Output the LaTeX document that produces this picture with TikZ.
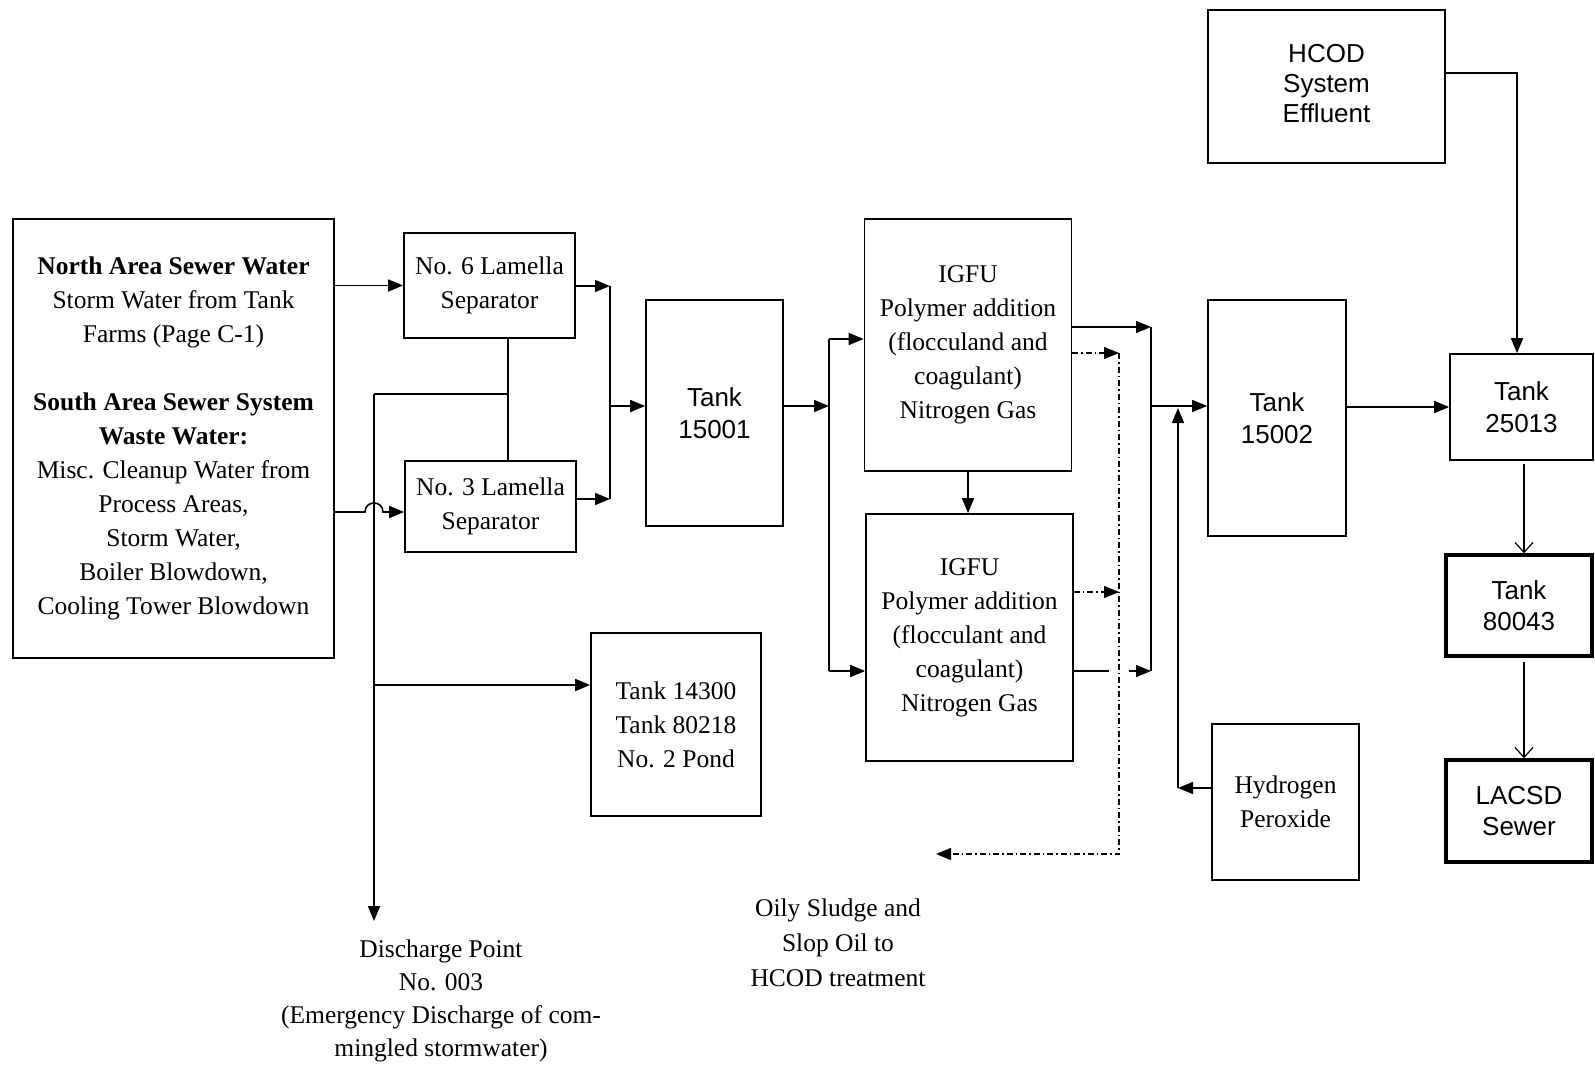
\documentclass[tikz,border=0pt]{standalone}
\usepackage{fontspec}
\setmainfont{Liberation Serif}
\setsansfont{Liberation Sans}
\usetikzlibrary{arrows.meta}
\begin{document}
\begin{tikzpicture}[x=1pt,y=-1pt,
  box/.style={draw, line width=1.7pt, inner sep=0pt, align=center, font=\fontsize{25.5}{34}\selectfont},
  sbox/.style={box, font=\sffamily\fontsize{26}{31.5}\selectfont},
  tbox/.style={sbox, line width=3.4pt},
  ln/.style={line width=1.6pt},
  tip/.style={-{Triangle[length=15pt,width=12pt]}},
  arr/.style={ln, tip},
  oarr/.style={line width=1.2pt, -{Straight Barb[length=10pt,width=18pt]}},
  dd/.style={line width=1.4pt, dash pattern=on 6pt off 3pt on 1.5pt off 3pt},
  lbl/.style={align=center, inner sep=0pt, font=\fontsize{25.5}{33}\selectfont}
]
\useasboundingbox (0,0) rectangle (1595,1067);

% boxes
\node[box, minimum width=321pt, minimum height=439pt] (src) at (173.5,438.5)
  {\textbf{North Area Sewer Water}\\Storm Water from Tank\\Farms (Page C-1)\\[34pt]
   \textbf{South Area Sewer System}\\\textbf{Waste Water:}\\Misc. Cleanup Water from\\Process Areas,\\Storm Water,\\Boiler Blowdown,\\Cooling Tower Blowdown};
\node[box, minimum width=171pt, minimum height=105pt] (lam6) at (489.5,285.5) {No. 6 Lamella\\Separator};
\node[box, minimum width=171pt, minimum height=91pt] (lam3) at (490.5,506.5) {No. 3 Lamella\\Separator};
\node[sbox, minimum width=137pt, minimum height=226pt] (t15001) at (714.5,413) {Tank\\15001};
\node[box, minimum width=207pt, minimum height=252pt] (igfu1) at (968,345)
  {IGFU\\Polymer addition\\(flocculand and\\coagulant)\\Nitrogen Gas};
\node[box, minimum width=207pt, minimum height=247pt] (igfu2) at (969.5,637.5)
  {IGFU\\Polymer addition\\(flocculant and\\coagulant)\\Nitrogen Gas};
\node[box, minimum width=170pt, minimum height=183pt] (t14300) at (676,724.5) {Tank 14300\\Tank 80218\\No. 2 Pond};
\node[sbox, minimum width=138pt, minimum height=236pt] (t15002) at (1277,418) {Tank\\15002};
\node[sbox, minimum width=237pt, minimum height=153pt, font=\sffamily\fontsize{26}{30}\selectfont] (hcod) at (1326.5,86.5)
  {\raisebox{6pt}{\begin{tabular}{@{}c@{}}HCOD\\System\\Effluent\end{tabular}}};
\node[sbox, minimum width=143pt, minimum height=106pt] (t25013) at (1521.5,407) {Tank\\25013};
\node[tbox, minimum width=146pt, minimum height=101pt] (t80043) at (1519,605.5) {Tank\\80043};
\node[tbox, minimum width=146pt, minimum height=102pt] (lacsd) at (1519,811) {LACSD\\Sewer};
\node[box, minimum width=147pt, minimum height=156pt] (h2o2) at (1285.5,802) {Hydrogen\\Peroxide};

\node[lbl] (disch) at (441,1001) {Discharge Point\\No. 003\\(Emergency Discharge of com-\\mingled stormwater)};
\node[lbl, font=\fontsize{25.5}{35}\selectfont] (oily) at (838,943) {Oily Sludge and\\Slop Oil to\\HCOD treatment};

% coordinates
\coordinate (j1) at (508,394);
\coordinate (jv) at (374,394);
\coordinate (dend) at (374,921);
\coordinate (b1) at (374,685);
\coordinate (m1) at (610,286);
\coordinate (m2) at (610,499);
\coordinate (m3) at (610,406);
\coordinate (s1) at (829,339);
\coordinate (s2) at (829,671);
\coordinate (s3) at (829,406);
\coordinate (c1) at (1151,327);
\coordinate (c2) at (1151,671);
\coordinate (c3) at (1151,406);
\coordinate (hp) at (1178,788);
\coordinate (hq) at (1178,408);
\coordinate (d1) at (1119,353);
\coordinate (d2) at (1119,592);
\coordinate (d3) at (1119,854);
\coordinate (dend2) at (936,854);
\coordinate (hc) at (1517,73);
\coordinate (vx) at (968,0);

% left side
\draw[arr] (src.east |- lam6.west) -- (lam6.west);
\draw[arr] (src.east |- 0,512) -- (365,512) .. controls (365,500) and (383,500) .. (383,512) -- (lam3.west |- 0,512);
\draw[ln] (lam6.south -| j1) -- (lam3.north -| j1);
\draw[ln] (j1) -- (jv);
\draw[arr] (jv) -- (dend);
\draw[arr] (b1) -- (t14300.west |- b1);

% lamellas to tank 15001
\draw[arr] (lam6.east |- m1) -- (m1);
\draw[arr] (lam3.east |- m2) -- (m2);
\draw[ln] (m1) -- (m2);
\draw[arr] (m3) -- (t15001.west |- m3);

% tank 15001 to IGFUs
\draw[arr] (t15001.east |- s3) -- (s3);
\draw[ln] (s1) -- (s2);
\draw[arr] (s1) -- (igfu1.west |- s1);
\draw[arr] (s2) -- (igfu2.west |- s2);
\draw[arr] (igfu1.south -| vx) -- (igfu2.north -| vx);

% IGFU outputs
\draw[arr] (igfu1.east |- c1) -- (c1);
\draw[ln] (igfu2.east |- c2) -- (1109,671);
\draw[arr] (1129,671) -- (c2);
\draw[ln] (c1) -- (c2);
\draw[arr] (c3) -- (t15002.west |- c3);
\draw[arr] (h2o2.west |- hp) -- (hp);
\draw[arr] (hp) -- (hq);

% sludge dash-dot
\draw[dd, tip] (igfu1.east |- d1) -- (d1);
\draw[dd, tip] (igfu2.east |- d2) -- (d2);
\draw[dd, tip] (d1) -- (d3) -- (dend2);

% right column
\draw[arr] (hcod.east |- hc) -- (hc) -- (t25013.north -| hc);
\draw[arr] (t15002.east |- t25013.west) -- (t25013.west);
\draw[oarr] ([yshift=-3pt]t25013.south -| 1524,0) -- (t80043.north -| 1524,0);
\draw[oarr] ([yshift=-4pt]t80043.south -| 1524,0) -- (lacsd.north -| 1524,0);
\end{tikzpicture}
\end{document}
